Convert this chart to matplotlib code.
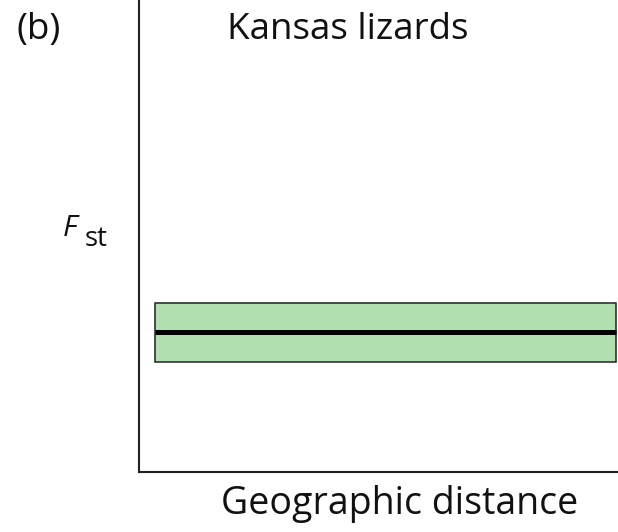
import matplotlib
matplotlib.use('Agg')
import matplotlib.pyplot as plt
from matplotlib.patches import Rectangle

plt.rcParams['font.family'] = ['Open Sans', 'DejaVu Sans']

# flat Fst band across geographic distance
distance_range = [0.033, 0.996]
fst_mean = 0.297
fst_low = 0.233
fst_high = 0.358

W, H = 618, 532
fig = plt.figure(figsize=(W / 100, H / 100), dpi=100)
ax = fig.add_axes([139 / W, 60 / H, 479 / W, 472 / H])
ax.set_xlim(0, 1)
ax.set_ylim(0, 1)

band = Rectangle((distance_range[0], fst_low), distance_range[1] - distance_range[0],
                 fst_high - fst_low, facecolor='#b2dfb0', edgecolor='#222222', linewidth=1.1)
ax.add_patch(band)
ax.plot(distance_range, [fst_mean, fst_mean], color='black', linewidth=3.6, solid_capstyle='butt')

for side in ['top', 'right']:
    ax.spines[side].set_visible(False)
for side in ['left', 'bottom']:
    ax.spines[side].set_linewidth(1.5)
    ax.spines[side].set_color('#222222')
ax.set_xticks([])
ax.set_yticks([])


def px(x, y):
    return x / W, 1 - y / H


fig.text(*px(38.5, 39), '(b)', fontsize=26.5, ha='center', va='baseline', color='#111111')
fig.text(*px(348, 39), 'Kansas lizards', fontsize=26.5, ha='center', va='baseline', color='#111111')
fig.text(*px(400, 514), 'Geographic distance', fontsize=27, ha='center', va='baseline', color='#111111')
fig.text(*px(63, 236), 'F', fontsize=21.5, fontstyle='italic', ha='left', va='baseline', color='#111111')
fig.text(*px(85, 246), 'st', fontsize=20, ha='left', va='baseline', color='#111111')

fig.savefig('out.png', dpi=100)
